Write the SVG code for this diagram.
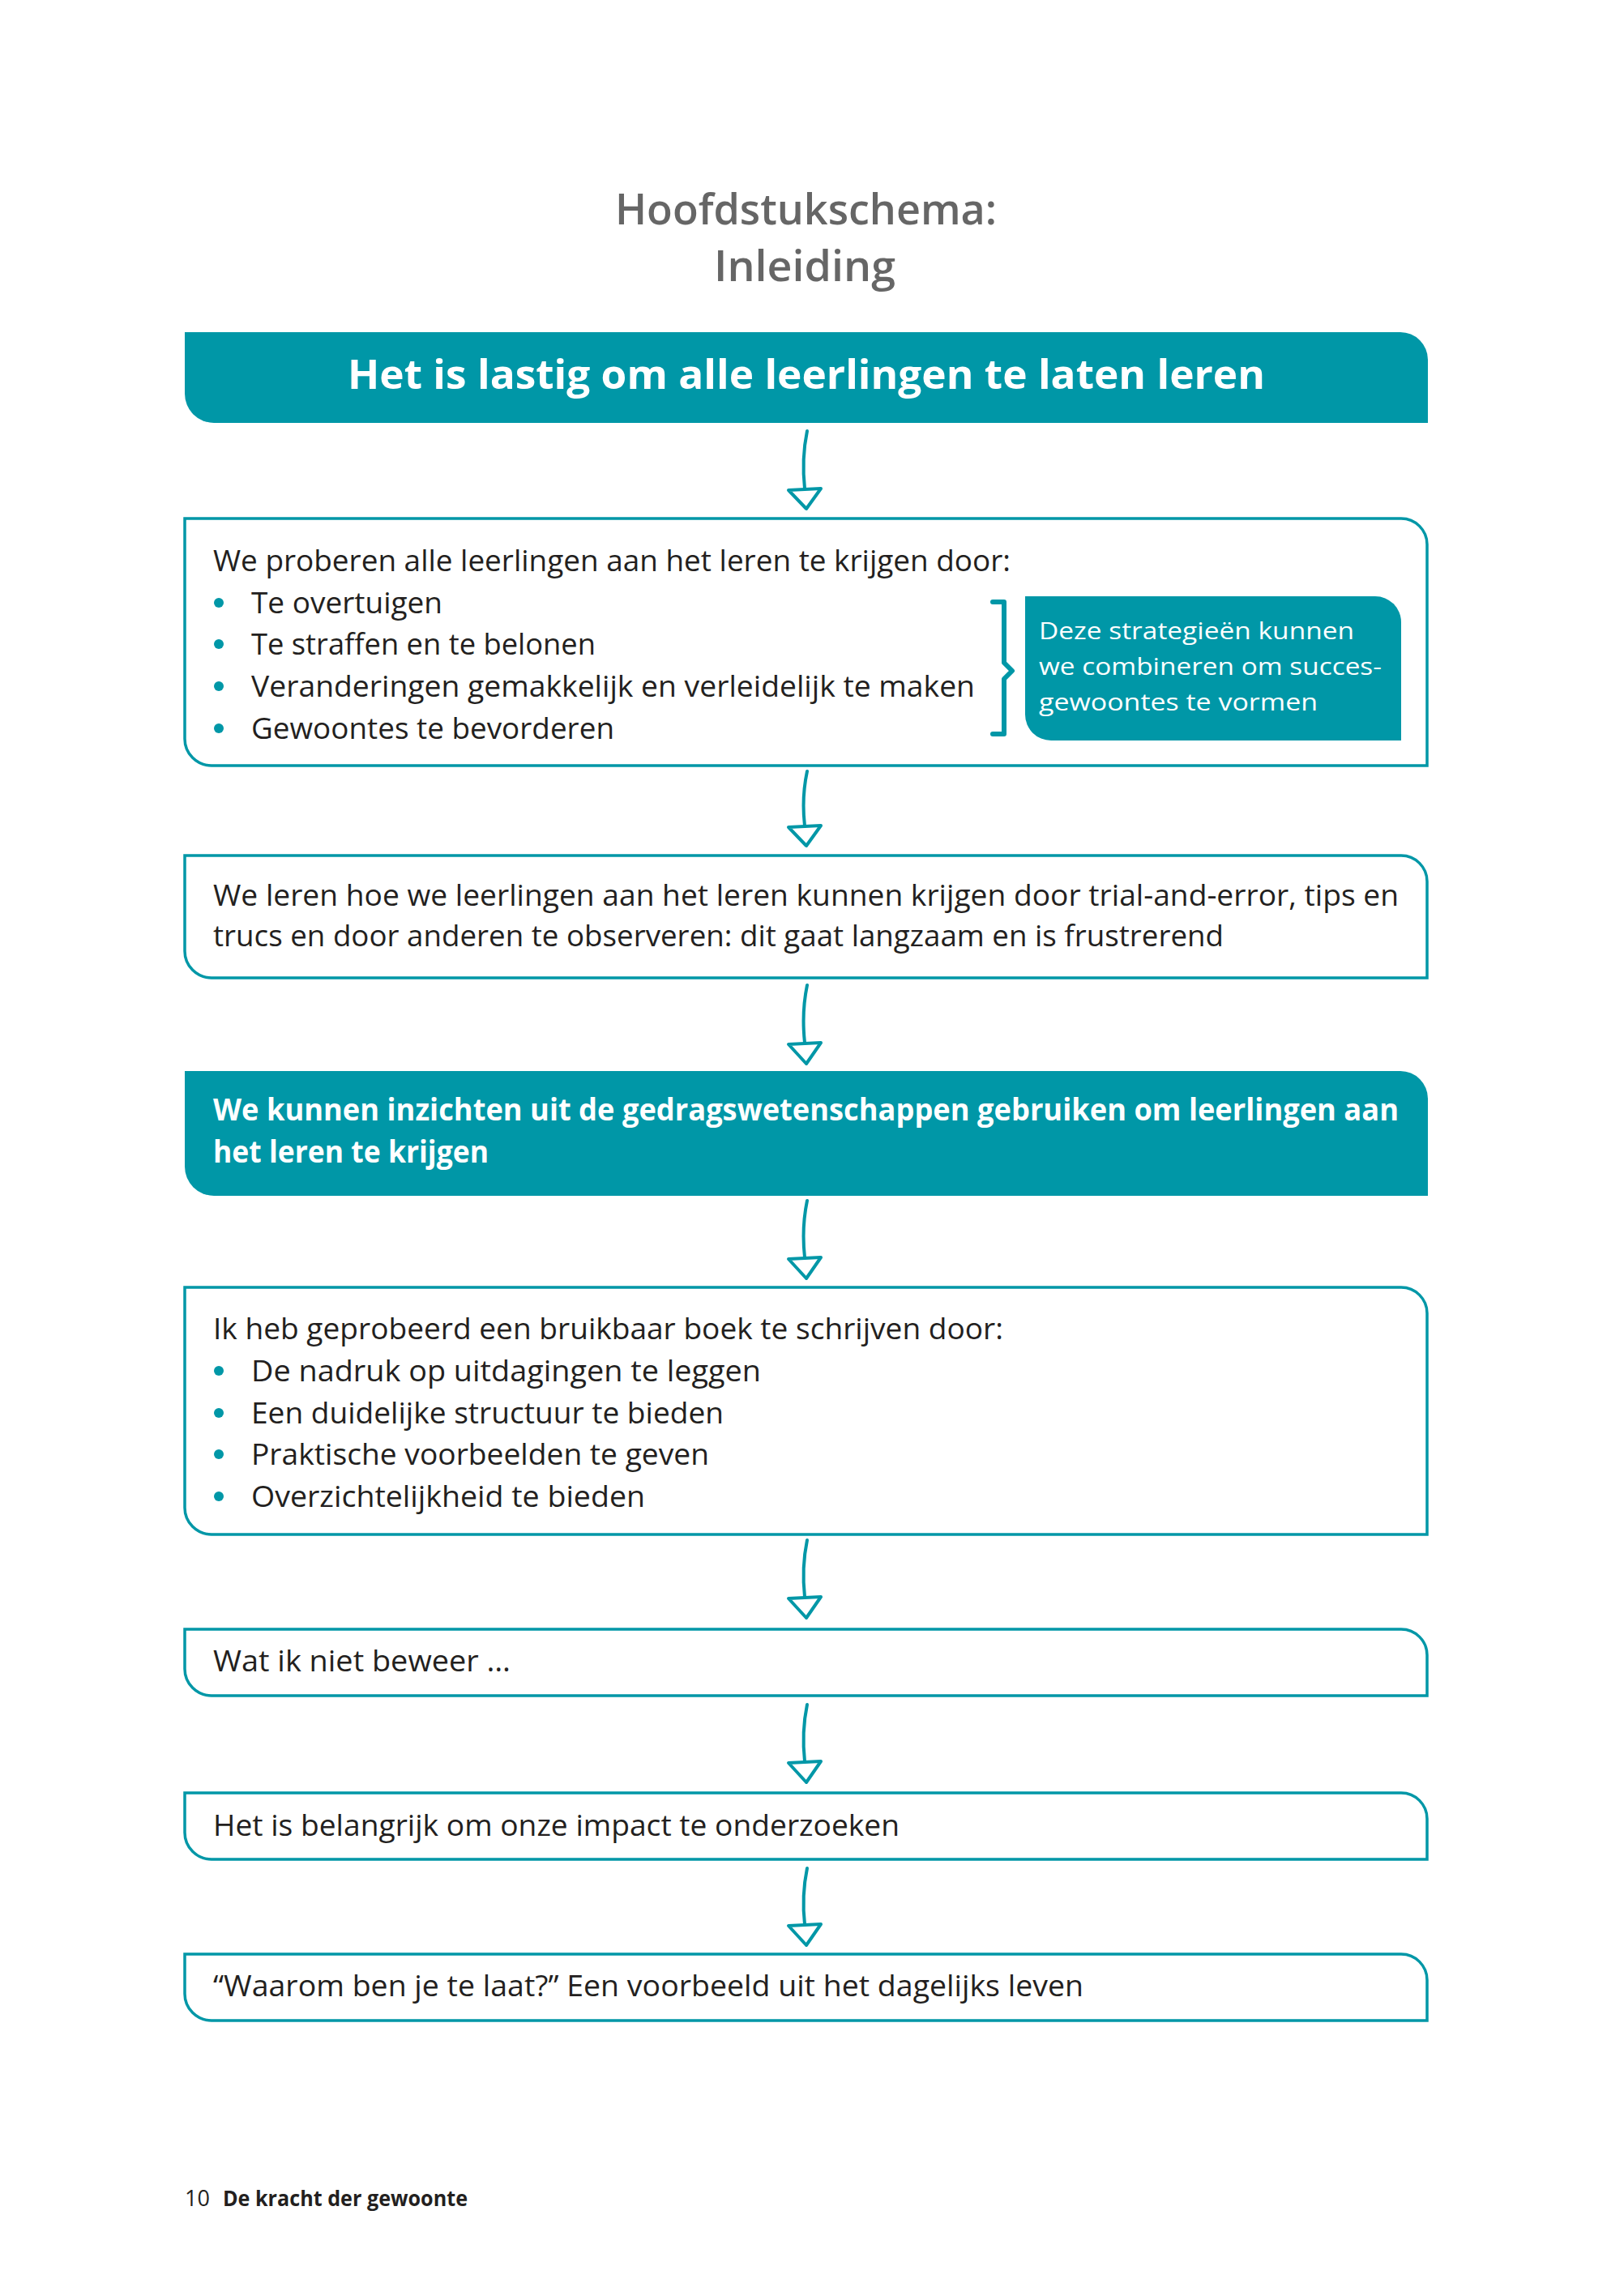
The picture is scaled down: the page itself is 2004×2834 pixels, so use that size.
<svg xmlns="http://www.w3.org/2000/svg" width="2004" height="2834" viewBox="0 0 2004 2834">
<defs>
<style>
.t{font-family:"Open Sans","Noto Sans","Liberation Sans",sans-serif;}
.title{font-size:53px;font-weight:600;fill:#666666;}
.body{font-size:37px;fill:#231f20;}
.wb{font-size:37px;font-weight:700;fill:#ffffff;}
.big{font-size:51px;font-weight:700;fill:#ffffff;}
.side{font-size:30px;fill:#ffffff;}
.outl{fill:#ffffff;stroke:#0097a7;stroke-width:3.5;}
.fill{fill:#0097a7;}
.bul{fill:#0097a7;}
.ln{fill:none;stroke:#0097a7;stroke-width:4;stroke-linecap:round;}
.hd{fill:#ffffff;stroke:#0097a7;stroke-width:4;stroke-linejoin:round;}
.foot{font-size:27px;fill:#231f20;}
</style>
</defs>
<rect width="2004" height="2834" fill="#ffffff"/>

<g id="title">
<text class="t title" x="759" y="277" textLength="471" lengthAdjust="spacingAndGlyphs">Hoofdstukschema:</text>
<text class="t title" x="881" y="347" textLength="224" lengthAdjust="spacingAndGlyphs">Inleiding</text>
</g>

<g id="node1">
<path class="fill" d="M228 410 H1728 A34 34 0 0 1 1762 444 V522 H264 A36 36 0 0 1 228 486 Z"/>
<text class="t big" x="429" y="480" textLength="1132" lengthAdjust="spacingAndGlyphs">Het is lastig om alle leerlingen te laten leren</text>
</g>

<g id="node2">
<path class="outl" d="M228 640 H1729 A32 32 0 0 1 1761 672 V945 H261 A33 33 0 0 1 228 912 Z"/>
<text class="t body" x="263" y="705" textLength="984" lengthAdjust="spacingAndGlyphs">We proberen alle leerlingen aan het leren te krijgen door:</text>
<circle class="bul" cx="270" cy="744" r="6"/>
<text class="t body" x="310" y="757" textLength="236" lengthAdjust="spacingAndGlyphs">Te overtuigen</text>
<circle class="bul" cx="270" cy="795" r="6"/>
<text class="t body" x="310" y="808" textLength="425" lengthAdjust="spacingAndGlyphs">Te straffen en te belonen</text>
<circle class="bul" cx="270" cy="847" r="6"/>
<text class="t body" x="310" y="860" textLength="893" lengthAdjust="spacingAndGlyphs">Veranderingen gemakkelijk en verleidelijk te maken</text>
<circle class="bul" cx="270" cy="899" r="6"/>
<text class="t body" x="310" y="912" textLength="448" lengthAdjust="spacingAndGlyphs">Gewoontes te bevorderen</text>
<path d="M1225 743 H1239 V818 L1249 828 L1239 838 V906 H1225" fill="none" stroke="#0097a7" stroke-width="6" stroke-linecap="round" stroke-linejoin="round"/>
</g>

<g id="node2b">
<path class="fill" d="M1265 736 H1697 A32 32 0 0 1 1729 768 V914 H1297 A32 32 0 0 1 1265 882 Z"/>
<text class="t side" x="1282" y="789" textLength="389" lengthAdjust="spacingAndGlyphs">Deze strategieën kunnen</text>
<text class="t side" x="1282" y="833" textLength="423" lengthAdjust="spacingAndGlyphs">we combineren om succes-</text>
<text class="t side" x="1282" y="877" textLength="344" lengthAdjust="spacingAndGlyphs">gewoontes te vormen</text>
</g>

<g id="node3">
<path class="outl" d="M228 1056 H1729 A32 32 0 0 1 1761 1088 V1207 H261 A33 33 0 0 1 228 1174 Z"/>
<text class="t body" x="263" y="1118" textLength="1463" lengthAdjust="spacingAndGlyphs">We leren hoe we leerlingen aan het leren kunnen krijgen door trial-and-error, tips en</text>
<text class="t body" x="263" y="1168" textLength="1247" lengthAdjust="spacingAndGlyphs">trucs en door anderen te observeren: dit gaat langzaam en is frustrerend</text>
</g>

<g id="node4">
<path class="fill" d="M228 1322 H1728 A34 34 0 0 1 1762 1356 V1476 H264 A36 36 0 0 1 228 1440 Z"/>
<text class="t wb" x="263" y="1383" textLength="1463" lengthAdjust="spacingAndGlyphs">We kunnen inzichten uit de gedragswetenschappen gebruiken om leerlingen aan</text>
<text class="t wb" x="263" y="1435" textLength="340" lengthAdjust="spacingAndGlyphs">het leren te krijgen</text>
</g>

<g id="node5">
<path class="outl" d="M228 1589 H1729 A32 32 0 0 1 1761 1621 V1894 H261 A33 33 0 0 1 228 1861 Z"/>
<text class="t body" x="263" y="1653" textLength="975" lengthAdjust="spacingAndGlyphs">Ik heb geprobeerd een bruikbaar boek te schrijven door:</text>
<circle class="bul" cx="270" cy="1692" r="6"/>
<text class="t body" x="310" y="1705" textLength="629" lengthAdjust="spacingAndGlyphs">De nadruk op uitdagingen te leggen</text>
<circle class="bul" cx="270" cy="1744" r="6"/>
<text class="t body" x="310" y="1757" textLength="583" lengthAdjust="spacingAndGlyphs">Een duidelijke structuur te bieden</text>
<circle class="bul" cx="270" cy="1795" r="6"/>
<text class="t body" x="310" y="1808" textLength="565" lengthAdjust="spacingAndGlyphs">Praktische voorbeelden te geven</text>
<circle class="bul" cx="270" cy="1847" r="6"/>
<text class="t body" x="310" y="1860" textLength="486" lengthAdjust="spacingAndGlyphs">Overzichtelijkheid te bieden</text>
</g>

<g id="node6">
<path class="outl" d="M228 2011 H1729 A32 32 0 0 1 1761 2043 V2093 H261 A33 33 0 0 1 228 2060 Z"/>
<text class="t body" x="263" y="2063" textLength="367" lengthAdjust="spacingAndGlyphs">Wat ik niet beweer …</text>
</g>

<g id="node7">
<path class="outl" d="M228 2213 H1729 A32 32 0 0 1 1761 2245 V2295 H261 A33 33 0 0 1 228 2262 Z"/>
<text class="t body" x="263" y="2266" textLength="847" lengthAdjust="spacingAndGlyphs">Het is belangrijk om onze impact te onderzoeken</text>
</g>

<g id="node8">
<path class="outl" d="M228 2412 H1729 A32 32 0 0 1 1761 2444 V2494 H261 A33 33 0 0 1 228 2461 Z"/>
<text class="t body" x="263" y="2464" textLength="1074" lengthAdjust="spacingAndGlyphs">“Waarom ben je te laat?”  Een voorbeeld uit het dagelijks leven</text>
</g>

<g id="connectors">
<path class="ln" d="M996 532 Q989 566 993 603"/>
<path class="hd" d="M973 605 L1013 603 L995 628 Z"/>
<path class="ln" d="M996 952 Q989 985 993 1019"/>
<path class="hd" d="M973 1021 L1013 1019 L995 1044 Z"/>
<path class="ln" d="M996 1216 Q989 1250 993 1287"/>
<path class="hd" d="M973 1289 L1013 1287 L995 1313 Z"/>
<path class="ln" d="M996 1482 Q989 1516 993 1552"/>
<path class="hd" d="M973 1554 L1013 1552 L995 1578 Z"/>
<path class="ln" d="M996 1901 Q989 1935 993 1971"/>
<path class="hd" d="M973 1973 L1013 1971 L995 1997 Z"/>
<path class="ln" d="M996 2104 Q989 2138 993 2174"/>
<path class="hd" d="M973 2176 L1013 2174 L995 2200 Z"/>
<path class="ln" d="M996 2306 Q989 2340 993 2375"/>
<path class="hd" d="M973 2377 L1013 2375 L995 2401 Z"/>
</g>

<g id="footer">
<text class="t foot" x="228" y="2723">10</text>
<text class="t foot" x="275" y="2723" font-weight="700" textLength="302" lengthAdjust="spacingAndGlyphs">De kracht der gewoonte</text>
</g>
</svg>
